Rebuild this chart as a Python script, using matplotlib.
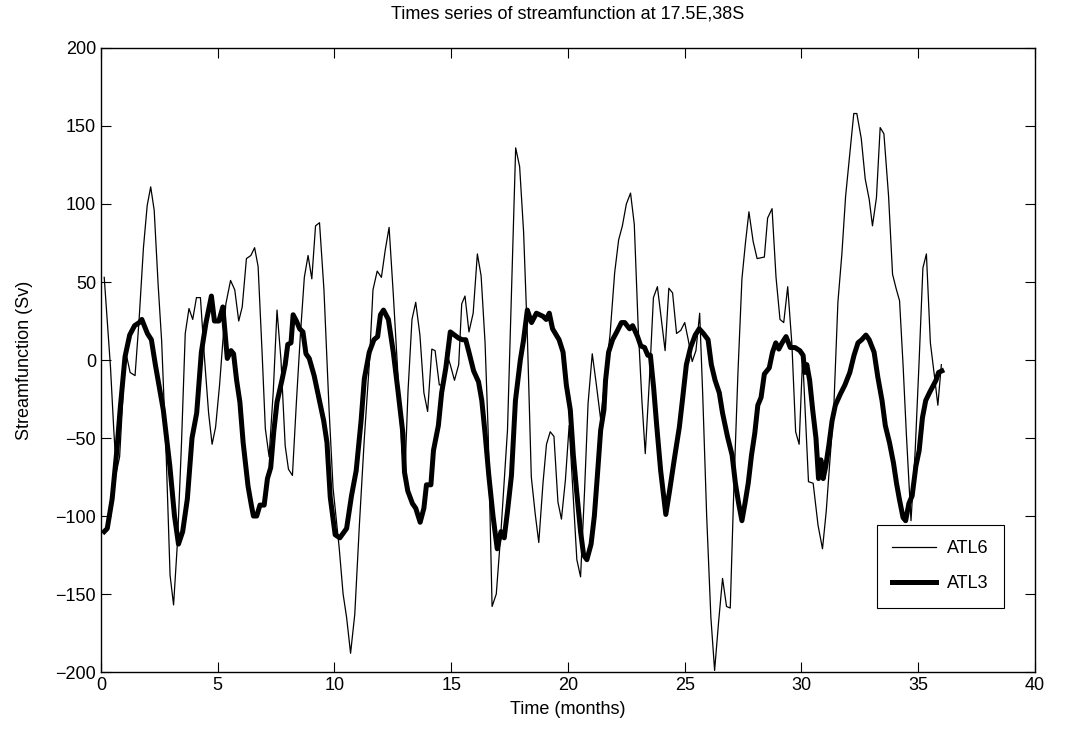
import matplotlib
matplotlib.use("Agg")
import matplotlib.pyplot as plt

plt.rcParams['font.family'] = ['Liberation Sans', 'DejaVu Sans']

# ATL6 (thin line): time in months, streamfunction in Sv
atl6_t = [0.14, 0.41, 0.55, 0.66, 0.8, 1.05, 1.25, 1.46, 1.63, 1.82, 1.98, 2.13, 2.28, 2.45, 2.6,
          2.8, 2.96, 3.11, 3.28, 3.45, 3.61, 3.77, 3.93, 4.09, 4.26, 4.43, 4.61, 4.76, 4.91, 5.08,
          5.21, 5.35, 5.55, 5.73, 5.9, 6.05, 6.23, 6.42, 6.58, 6.73, 6.9, 7.04, 7.2, 7.38, 7.54,
          7.71, 7.89, 8.03, 8.2, 8.37, 8.54, 8.71, 8.87, 9.03, 9.19, 9.36, 9.55, 9.77, 9.94, 10.2,
          10.37, 10.52, 10.69, 10.87, 11.07, 11.28, 11.49, 11.65, 11.83, 12.01, 12.18, 12.34, 12.52, 12.7, 12.89,
          13.02, 13.15, 13.32, 13.48, 13.66, 13.83, 13.99, 14.17, 14.31, 14.49, 14.66, 14.79, 14.96, 15.14, 15.32,
          15.45, 15.59, 15.76, 15.94, 16.12, 16.28, 16.45, 16.58, 16.75, 16.93, 17.13, 17.41, 17.58, 17.76, 17.93,
          18.1, 18.26, 18.43, 18.6, 18.75, 18.93, 19.08, 19.24, 19.4, 19.57, 19.72, 19.89, 20.05, 20.38, 20.54,
          20.71, 20.86, 21.04, 21.2, 21.4, 21.6, 21.8, 22.0, 22.17, 22.33, 22.5, 22.68, 22.84, 23.01, 23.17,
          23.31, 23.48, 23.66, 23.83, 23.99, 24.16, 24.32, 24.48, 24.65, 24.83, 25.0, 25.15, 25.32, 25.48, 25.64,
          25.77, 25.94, 26.12, 26.28, 26.45, 26.62, 26.79, 26.95, 27.1, 27.28, 27.45, 27.6, 27.75, 27.93, 28.1,
          28.41, 28.55, 28.74, 28.91, 29.08, 29.24, 29.41, 29.59, 29.75, 29.9, 30.05, 30.3, 30.5, 30.71, 30.9,
          31.06, 31.2, 31.38, 31.56, 31.73, 31.89, 32.07, 32.24, 32.37, 32.56, 32.73, 32.9, 33.04, 33.21, 33.37,
          33.53, 33.73, 33.9, 34.05, 34.2, 34.35, 34.49, 34.62, 34.69, 34.87, 35.04, 35.2, 35.35, 35.52, 35.7,
          35.84, 35.99]
atl6_psi = [53, -5, -45, -72, -62, 6, -8, -10, 25, 72, 99, 111, 96, 48, 12,
            -64, -138, -157, -116, -53, 17, 33, 26, 40, 40, 2, -34, -54, -43, -16,
            10, 36, 51, 45, 25, 34, 65, 67, 72, 60, 5, -44, -62, -20, 32,
            0, -55, -70, -74, -27, 16, 53, 67, 52, 86, 88, 45, -32, -82, -120,
            -150, -165, -188, -163, -105, -50, -3, 45, 57, 53, 71, 85, 42, -5, -58,
            -72, -20, 26, 37, 16, -21, -33, 7, 6, -16, -16, 5, -3, -13, -3,
            36, 41, 18, 30, 68, 54, 11, -45, -158, -150, -110, -45, 42, 136, 124,
            82, 16, -75, -99, -117, -79, -54, -46, -49, -91, -102, -77, -42, -128, -139,
            -84, -28, 4, -14, -38, -10, 16, 56, 77, 86, 100, 107, 87, 20, -27,
            -60, -15, 40, 47, 27, 6, 46, 43, 17, 19, 24, 13, -1, 6, 30,
            -22, -100, -165, -199, -168, -140, -158, -159, -84, -8, 52, 75, 95, 76, 65,
            66, 91, 97, 53, 26, 24, 47, 10, -46, -54, 2, -78, -79, -106, -121,
            -97, -68, -32, 37, 68, 105, 132, 158, 158, 142, 116, 103, 86, 104, 149,
            145, 105, 55, 46, 38, -3, -47, -84, -103, -58, 0, 59, 68, 11, -11,
            -29, -3]

# ATL3 (thick line)
atl3_t = [0.14, 0.27, 0.48, 0.68, 0.82, 1.03, 1.23, 1.44, 1.64, 1.75, 1.99, 2.16, 2.33, 2.67, 2.95,
          3.15, 3.32, 3.5, 3.7, 3.9, 4.1, 4.3, 4.5, 4.73, 4.86, 5.05, 5.22, 5.41, 5.57, 5.68,
          5.81, 5.95, 6.09, 6.3, 6.44, 6.53, 6.67, 6.81, 6.99, 7.13, 7.27, 7.4, 7.54, 7.75, 7.89,
          8.0, 8.14, 8.23, 8.37, 8.51, 8.65, 8.78, 8.92, 9.13, 9.34, 9.54, 9.68, 9.82, 10.03, 10.23,
          10.52, 10.73, 10.93, 11.14, 11.28, 11.49, 11.69, 11.85, 11.97, 12.1, 12.31, 12.52, 12.73, 12.93, 13.0,
          13.14, 13.34, 13.48, 13.67, 13.83, 13.94, 14.13, 14.24, 14.45, 14.59, 14.77, 14.96, 15.14, 15.32, 15.48,
          15.62, 15.76, 15.96, 16.17, 16.31, 16.45, 16.61, 16.79, 16.97, 17.13, 17.27, 17.41, 17.58, 17.75, 17.96,
          18.1, 18.26, 18.44, 18.65, 18.93, 19.07, 19.2, 19.34, 19.62, 19.79, 19.93, 20.1, 20.23, 20.37, 20.54,
          20.67, 20.81, 20.99, 21.13, 21.26, 21.4, 21.54, 21.61, 21.74, 21.91, 22.09, 22.29, 22.43, 22.64, 22.77,
          22.98, 23.12, 23.28, 23.42, 23.53, 23.67, 23.8, 23.97, 24.19, 24.35, 24.56, 24.77, 24.9, 25.07, 25.25,
          25.45, 25.62, 25.8, 26.0, 26.14, 26.3, 26.48, 26.62, 26.83, 27.03, 27.17, 27.31, 27.45, 27.58, 27.72,
          27.86, 28.0, 28.13, 28.27, 28.41, 28.62, 28.76, 28.9, 29.03, 29.17, 29.34, 29.52, 29.72, 29.93, 30.07,
          30.14, 30.23, 30.35, 30.48, 30.62, 30.73, 30.83, 30.93, 31.04, 31.17, 31.31, 31.45, 31.66, 31.86, 32.07,
          32.25, 32.42, 32.58, 32.76, 32.9, 33.11, 33.27, 33.45, 33.59, 33.77, 33.94, 34.07, 34.19, 34.35, 34.46,
          34.6, 34.74, 34.9, 35.04, 35.18, 35.32, 35.48, 35.62, 35.76, 35.87, 36.01]
atl3_psi = [-110, -108, -89, -58, -32, 2, 16, 22, 24, 26, 17, 13, -3, -32, -68,
            -100, -118, -110, -89, -50, -34, 5, 24, 41, 25, 25, 34, 1, 6, 4,
            -13, -27, -53, -81, -93, -100, -100, -93, -93, -76, -69, -46, -27, -13, -3,
            10, 11, 29, 25, 20, 18, 4, 1, -10, -25, -39, -53, -88, -112, -114,
            -108, -87, -71, -39, -12, 5, 13, 15, 29, 32, 26, 5, -21, -47, -72,
            -84, -92, -95, -104, -95, -80, -80, -58, -42, -21, -5, 18, 16, 14, 13,
            13, 5, -7, -14, -26, -47, -74, -100, -121, -110, -114, -97, -74, -26, 0,
            13, 32, 24, 30, 28, 26, 30, 20, 13, 5, -16, -32, -61, -84, -110,
            -125, -128, -118, -100, -74, -45, -32, -13, 5, 13, 18, 24, 24, 20, 22,
            15, 9, 8, 3, 3, -18, -42, -71, -99, -84, -63, -43, -26, -3, 8,
            16, 20, 17, 13, -3, -13, -21, -34, -49, -61, -79, -92, -103, -92, -79,
            -61, -47, -29, -24, -9, -5, 5, 11, 7, 11, 15, 8, 8, 6, 3,
            -8, -3, -13, -32, -50, -76, -64, -76, -68, -55, -39, -29, -22, -16, -8,
            3, 11, 13, 16, 13, 5, -11, -26, -42, -53, -66, -79, -89, -101, -103,
            -92, -87, -68, -58, -37, -26, -21, -17, -13, -8, -7]

fig = plt.figure(figsize=(10.89, 7.35), dpi=100)
ax = fig.add_axes([0.0927, 0.0857, 0.8577, 0.849])

ax.plot(atl6_t, atl6_psi, color='black', lw=0.9, label='ATL6')
ax.plot(atl3_t, atl3_psi, color='black', lw=3.6, label='ATL3')

ax.set_xlim(0, 40)
ax.set_ylim(-200, 200)
ax.set_xticks(range(0, 41, 5))
ax.set_yticks(range(-200, 201, 50))
ax.tick_params(direction='in', length=7, width=0.8, top=True, right=True, labelsize=13)
for s in ax.spines.values():
    s.set_linewidth(1.0)

ax.set_title('Times series of streamfunction at 17.5E,38S', fontsize=13, pad=21)
ax.set_xlabel('Time (months)', fontsize=13, labelpad=5)
ax.set_ylabel('Streamfunction (Sv)', fontsize=13, labelpad=16)

leg = ax.legend(loc='lower left', bbox_to_anchor=(0.831, 0.103), fontsize=13,
                fancybox=False, framealpha=1, edgecolor='black', handlelength=2.4,
                borderpad=0.85, labelspacing=1.0, handletextpad=0.6, borderaxespad=0)
leg.get_frame().set_linewidth(0.8)

fig.savefig('out.png', dpi=100)
